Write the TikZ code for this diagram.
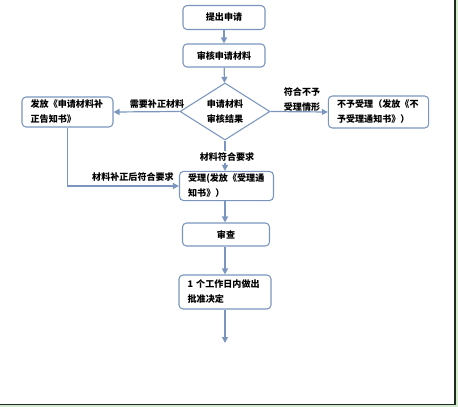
\documentclass[tikz,border=0pt]{standalone}
\usepackage{fontspec}
\newfontfamily\cjk{Noto Sans CJK SC}
\usetikzlibrary{shapes.geometric,arrows.meta}
\definecolor{linec}{RGB}{122,150,190}
\definecolor{framec}{RGB}{30,45,30}
\definecolor{edgec}{RGB}{214,234,208}
\tikzset{
	txt/.style={font=\cjk\bfseries\fontsize{6.8}{11.25}\selectfont, text=black},
	box/.style={txt, draw=linec, line width=0.8pt, rounded corners=3pt, fill=white, inner ysep=2pt},
	wide/.style={box, align=left, inner xsep=6.5pt},
	arr/.style={draw=linec, line width=0.9pt, -{Triangle[width=4.5pt,length=4.5pt]}},
	lbl/.style={txt, inner sep=1pt}
}
\begin{document}
\begin{tikzpicture}[x=0.75pt,y=-0.75pt]
		\useasboundingbox (0,0) rectangle (458,407);
		% frame
		\fill[edgec] (455,0) rectangle (458,407);
		\fill[edgec] (0,404.5) rectangle (458,407);
		\draw[framec, line width=1pt] (0,404.5) -- (455,404.5) -- (455,0);
		% boxes
		\node[box, minimum width=61.5pt, minimum height=18pt] (tichu) at (224,17.5) {提出申请};
		\node[box, minimum width=61.5pt, minimum height=17.25pt] (shenhe) at (224,55.5) {审核申请材料};
		\node[txt, diamond, draw=linec, line width=0.8pt, fill=white, inner sep=0pt, align=center,
			shape aspect=1.58, minimum width=67.5pt, minimum height=42.75pt] (jieguo) at (225,111.5) {申请材料\\审核结果};
		\node[wide, text width=55.25pt, minimum height=22.5pt] (buzheng) at (67.5,112) {发放《申请材料补\\正告知书》};
		\node[wide, text width=62.25pt, minimum height=24pt] (buyu) at (378.5,112) {不予受理（发放《不\\予受理通知书》）};
		\node[wide, text width=57.5pt, minimum height=21pt] (shouli) at (226.5,186) {受理(发放《受理通\\知书》）};
		\node[box, minimum width=65.25pt, minimum height=17.25pt] (shencha) at (226,234.5) {审查};
		\node[wide, text width=56pt, minimum height=25.5pt] (jueding) at (225,292) {1 个工作日内做出\\批准决定};
		\coordinate (ende) at (225,343);
		% arrows
		\draw[arr] (tichu) -- (shenhe);
		\draw[arr] (shenhe) -- (jieguo);
		\draw[arr] (jieguo.west) -- (buzheng.east);
		\draw[arr] (jieguo.east) -- (buyu.west);
		\draw[arr] (jieguo.south) -- (jieguo.south |- shouli.north);
		\draw[arr] (buzheng.south) |- (shouli.west);
		\draw[arr] (shouli.south -| jieguo.south) -- (shencha.north -| jieguo.south);
		\draw[arr] (shencha.south -| jieguo.south) -- (jueding.north -| jieguo.south);
		\draw[arr] (jueding.south) -- (ende);
		% labels
		\node[lbl] (lbuzheng) at (157,104.5) {需要补正材料};
		\node[lbl, align=center] (lbuyu) at (302,100) {符合不予\\受理情形};
		\node[lbl, fill=white] (lfuhe) at (227,157) {材料符合要求};
		\node[lbl] (lhou) at (133,177.5) {材料补正后符合要求};
		\end{tikzpicture}
\end{document}
